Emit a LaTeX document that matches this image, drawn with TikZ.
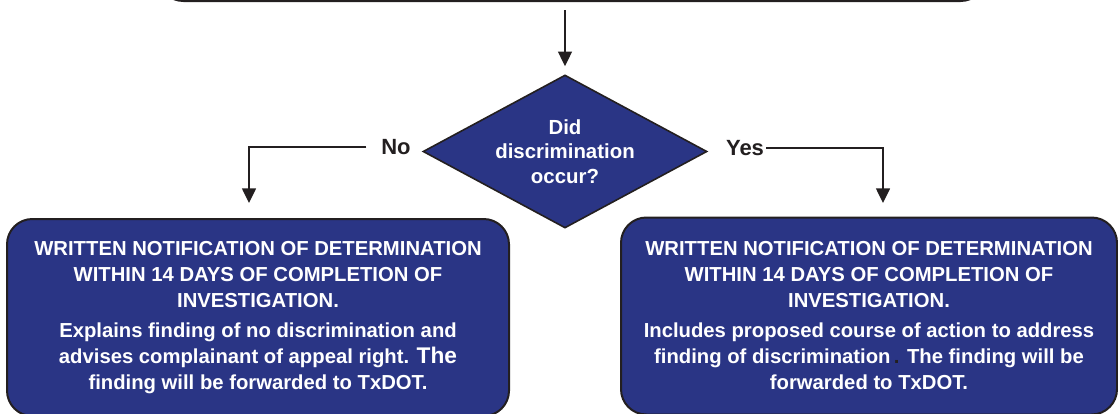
\documentclass[tikz,border=0pt]{standalone}
\usepackage{fontspec}
\setmainfont{Liberation Sans}
\usetikzlibrary{shapes.geometric,arrows.meta,calc}
\definecolor{boxblue}{RGB}{42,53,133}
\definecolor{edge}{RGB}{35,31,32}
\begin{document}
\begin{tikzpicture}[x=0.75pt,y=-0.75pt,
  arr/.style={draw=edge,line width=1.1pt,-{Triangle[width=10.5pt,length=11pt]}},
  bluebox/.style={draw=edge,line width=1.5pt,fill=boxblue,rounded corners=19pt,text=white,
    font=\fontsize{15.2}{19.5}\selectfont\bfseries,align=center,inner sep=4pt,minimum height=147.75pt},
  decision/.style={diamond,draw=edge,line width=1.2pt,fill=boxblue,text=white,inner sep=0pt,
    minimum width=213pt,minimum height=114.75pt,shape aspect=1.86,align=center,
    font=\fontsize{15.3}{18.5}\selectfont\bfseries},
  lbl/.style={font=\fontsize{16.5}{18}\selectfont\bfseries,text=edge,inner ysep=0pt}]
\clip (0,0) rectangle (1118,414);
\node[draw=edge,line width=1.5pt,rounded corners=19pt,minimum width=621pt,minimum height=90pt] (top) at (572,-59) {};
\node[decision] (dia) at (565,151.5) {Did\\discrimination\\occur?};
\node[lbl,inner xsep=11pt] (no) at (396,147) {No};
\node[lbl,inner xsep=1.5pt] (yes) at (745,148) {Yes};
\node[bluebox,minimum width=376.5pt] (lbox) at (258,317.5)
  {WRITTEN NOTIFICATION OF DETERMINATION\\
   WITHIN 14 DAYS OF COMPLETION OF\\
   INVESTIGATION.\\[3pt]
   Explains finding of no discrimination and\\
   advises complainant of appeal right. {\fontsize{17}{19.5}\selectfont The}\\
   finding will be forwarded to TxDOT.};
\node[bluebox,minimum width=372pt] (rbox) at (869,316)
  {WRITTEN NOTIFICATION OF DETERMINATION\\
   WITHIN 14 DAYS OF COMPLETION OF\\
   INVESTIGATION.\\[3pt]
   Includes proposed course of action to address\\
   finding of discrimination\,{\color{edge}.} The finding will be\\
   forwarded to TxDOT.};
\coordinate (ldrop) at (249,203);
\coordinate (rdrop) at (883,203);
\draw[arr] ([yshift=-6pt]top.south -| dia.north) -- ([yshift=6pt]dia.north);
\draw[arr] (no.west) -| (ldrop);
\draw[arr] (yes.east) -| (rdrop);
\end{tikzpicture}
\end{document}
